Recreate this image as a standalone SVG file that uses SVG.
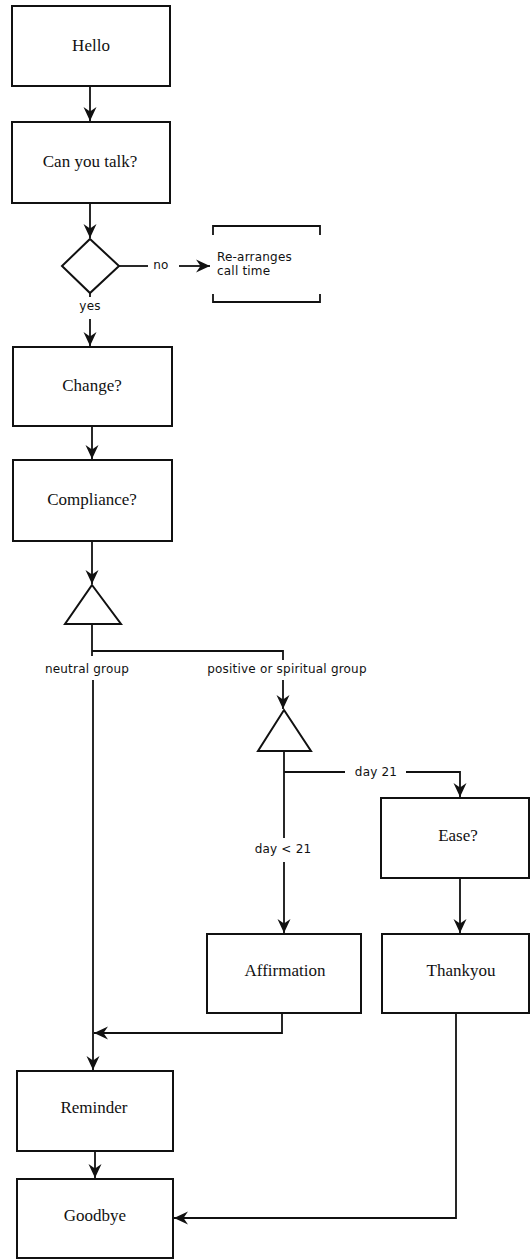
<svg xmlns="http://www.w3.org/2000/svg" width="530" height="1259" viewBox="0 0 530 1259">
  <style>
    .box { fill: #fff; stroke: #111; stroke-width: 2; }
    .shape { fill: #fff; stroke: #111; stroke-width: 2; stroke-linejoin: miter; }
    .bracket { fill: none; stroke: #111; stroke-width: 1.8; }
    .link { fill: none; stroke: #111; stroke-width: 1.8; }
    .node-text { font-family: "Liberation Serif", "Times New Roman", serif; font-size: 17px; fill: #111; text-anchor: middle; }
    .label { font-family: "DejaVu Sans", "Liberation Sans", sans-serif; font-size: 12px; letter-spacing: 0.2px; fill: #111; }
    .mid { text-anchor: middle; }
  </style>
  <defs>
    <marker id="arrow" markerUnits="userSpaceOnUse" markerWidth="18" markerHeight="16" refX="14" refY="8" orient="auto">
      <path d="M0,1.5 L14,8 L0,14.5 L4.5,8 z" fill="#111"/>
    </marker>
  </defs>

  <rect width="530" height="1259" fill="#fff"/>

  <!-- connectors -->
  <g id="connectors">
    <path class="link" d="M90,86 V121" marker-end="url(#arrow)"/>
    <path class="link" d="M90,203 V238" marker-end="url(#arrow)"/>
    <!-- no branch -->
    <path class="link" d="M119,266 H148"/>
    <path class="link" d="M179,266 H210" marker-end="url(#arrow)"/>
    <!-- yes branch -->
    <path class="link" d="M90,293 V297"/>
    <path class="link" d="M90,319 V346" marker-end="url(#arrow)"/>
    <path class="link" d="M92,426 V459" marker-end="url(#arrow)"/>
    <path class="link" d="M92,541 V584" marker-end="url(#arrow)"/>
    <!-- group split -->
    <path class="link" d="M92,624 V656"/>
    <path class="link" d="M92,651 H283 V660"/>
    <path class="link" d="M93,680 V1070" marker-end="url(#arrow)"/>
    <path class="link" d="M283,680 V709" marker-end="url(#arrow)"/>
    <!-- day split -->
    <path class="link" d="M284,751 V838"/>
    <path class="link" d="M284,772 H345"/>
    <path class="link" d="M406,772 H460 V797" marker-end="url(#arrow)"/>
    <path class="link" d="M284,862 V933" marker-end="url(#arrow)"/>
    <path class="link" d="M460,878 V933" marker-end="url(#arrow)"/>
    <!-- returns -->
    <path class="link" d="M282,1013 V1033 H94" marker-end="url(#arrow)"/>
    <path class="link" d="M95,1151 V1178" marker-end="url(#arrow)"/>
    <path class="link" d="M456,1013 V1218 H174" marker-end="url(#arrow)"/>

    <text class="label mid" x="161" y="269">no</text>
    <text class="label mid" x="90" y="310">yes</text>
    <text class="label mid" x="87" y="673">neutral group</text>
    <text class="label mid" x="287" y="673">positive or spiritual group</text>
    <text class="label mid" x="376" y="776">day 21</text>
    <text class="label mid" x="283" y="853">day &lt; 21</text>
  </g>

  <!-- nodes -->
  <g id="hello">
    <rect class="box" x="12" y="6" width="158" height="80"/>
    <text class="node-text" x="91" y="51">Hello</text>
  </g>
  <g id="can-you-talk">
    <rect class="box" x="12" y="122" width="158" height="81"/>
    <text class="node-text" x="90" y="167">Can you talk?</text>
  </g>
  <g id="talk-decision">
    <polygon class="shape" points="90,239 119,266 90,293 62,266"/>
  </g>
  <g id="rearranges">
    <path class="bracket" d="M213,235 V226 H320 V235"/>
    <path class="bracket" d="M213,294 V302 H320 V294"/>
    <text class="label" x="217" y="261">Re-arranges</text>
    <text class="label" x="217" y="275">call time</text>
  </g>
  <g id="change">
    <rect class="box" x="13" y="347" width="159" height="79"/>
    <text class="node-text" x="92" y="391">Change?</text>
  </g>
  <g id="compliance">
    <rect class="box" x="13" y="460" width="159" height="81"/>
    <text class="node-text" x="92" y="505">Compliance?</text>
  </g>
  <g id="group-split">
    <polygon class="shape" points="92,585 121,624 65,624"/>
  </g>
  <g id="day-split">
    <polygon class="shape" points="284,710 311,751 258,751"/>
  </g>
  <g id="ease">
    <rect class="box" x="381" y="798" width="148" height="80"/>
    <text class="node-text" x="458" y="841">Ease?</text>
  </g>
  <g id="affirmation">
    <rect class="box" x="207" y="934" width="154" height="79"/>
    <text class="node-text" x="285" y="976">Affirmation</text>
  </g>
  <g id="thankyou">
    <rect class="box" x="382" y="934" width="147" height="79"/>
    <text class="node-text" x="461" y="976">Thankyou</text>
  </g>
  <g id="reminder">
    <rect class="box" x="17" y="1071" width="156" height="80"/>
    <text class="node-text" x="94" y="1113">Reminder</text>
  </g>
  <g id="goodbye">
    <rect class="box" x="17" y="1179" width="156" height="79"/>
    <text class="node-text" x="95" y="1221">Goodbye</text>
  </g>
</svg>
